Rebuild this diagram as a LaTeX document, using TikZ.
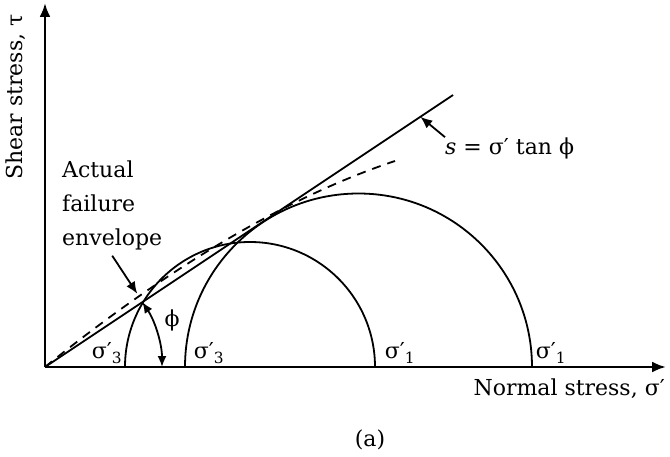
\documentclass[tikz,border=0pt]{standalone}
\usepackage{fontspec}
\setmainfont{DejaVu Serif}
\usepackage{tikz}
\usetikzlibrary{arrows.meta,positioning}
\newcommand{\sigp}[1]{σ′\textsubscript{#1}}

\begin{document}
\begin{tikzpicture}[
  x=1pt, y=1pt,
  lbl/.style={font=\fontsize{22}{34}\selectfont, inner sep=0pt},
  axis/.style={line width=2.6pt, -{Latex[length=14pt,width=11pt]}},
  curve/.style={line width=1.8pt},
  arr/.style={line width=1.8pt, -{Latex[length=12pt,width=10pt]}},
  dbl/.style={line width=1.8pt, {Latex[length=11pt,width=9pt]}-{Latex[length=11pt,width=9pt]}}
]
\useasboundingbox (-45,-89) rectangle (625,367);
\coordinate (O) at (0,0);
\coordinate (ytop) at (0,364);
\coordinate (xend) at (621,0);
\coordinate (S) at (408,272);
\coordinate (E) at (350,206);
\draw[axis] (O) -- (ytop);
\draw[axis] (O) -- (xend);
\draw[curve] (80,0) arc[start angle=180, end angle=0, radius=125];
\draw[curve] (140,0) arc[start angle=180, end angle=0, radius=173.5];
\draw[curve] (O) -- (S) coordinate[pos=0.92] (stip);
\draw[curve, dash pattern=on 9pt off 7pt] (O) .. controls (128,103) and (245,171) .. (E) coordinate[pos=0.25] (env);
\draw[dbl] (33.7:117) arc[start angle=33.7, end angle=0, radius=117];
\node[lbl, rotate=90] (ylab) at (-29,270) {Shear stress, τ};
\node[lbl, align=left, anchor=north west] (envlab) at (17,206) {Actual\\failure\\envelope};
\node[lbl, anchor=west] (slab) at (400,219) {\textit{s} = σ′ tan ϕ};
\node[lbl] (s3a) at (62,14) {\sigp{3}};
\node[lbl] (s3b) at (164,14) {\sigp{3}};
\node[lbl] (s1a) at (355,14) {\sigp{1}};
\node[lbl] (s1b) at (506,14) {\sigp{1}};
\node[lbl] (phi) at (127,47) {ϕ};
\node[lbl, anchor=east] (xlab) at (620,-22) {Normal stress, σ′};
\node[lbl] (cap) at (325,-73) {(a)};
\draw[arr, shorten >=3pt] ([yshift=-5pt]envlab.south) -- (env);
\draw[arr] (slab.north west) -- (stip);
\end{tikzpicture}
\end{document}
